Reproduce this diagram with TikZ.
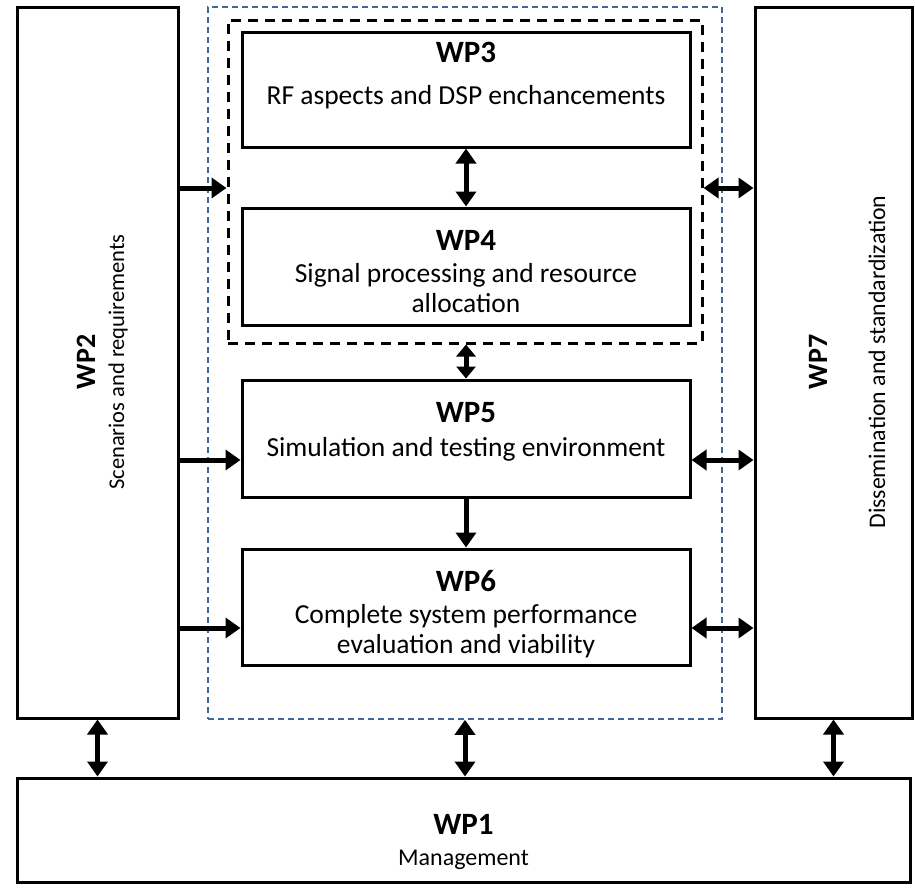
\documentclass[tikz,border=0pt]{standalone}
\usepackage{fontspec}
\setmainfont{Carlito}
\usetikzlibrary{arrows.meta}
\definecolor{dblue}{HTML}{41689A}
\begin{document}
\begin{tikzpicture}[x=1pt,y=-1pt,
  box/.style={draw, line width=3pt, rectangle, inner sep=0pt},
  tip/.tip={Triangle[length=15pt,width=20pt]},
  stip/.tip={Triangle[length=12pt,width=19pt]},
  arr/.style={line width=5pt, -tip},
  darr/.style={line width=5pt, tip-tip},
  ttl/.style={font=\fontsize{31}{36}\selectfont\bfseries, anchor=base},
  txt/.style={font=\fontsize{27.5}{32}\selectfont, anchor=base},
]
\useasboundingbox (0,0) rectangle (915,887);
\fill[white] (0,0) rectangle (915,887);

% outer boxes
\node[box, minimum width=161pt, minimum height=711pt] (wp2) at (97.5,362.5) {};
\node[box, minimum width=157pt, minimum height=711pt] (wp7) at (833.5,362.5) {};
\node[box, minimum width=893pt, minimum height=104pt] (wp1) at (463.5,830) {};
\node[draw=dblue, line width=1.6pt, dash pattern=on 6pt off 4pt, rectangle, inner sep=0pt,
      minimum width=514pt, minimum height=712pt] (blue) at (465,363) {};
\node[draw, line width=3pt, dash pattern=on 10pt off 7pt, rectangle, inner sep=0pt,
      minimum width=474pt, minimum height=323pt] (dbox) at (465,181.5) {};
\node[box, minimum width=448pt, minimum height=115pt] (wp3) at (466,89.5) {};
\node[box, minimum width=448pt, minimum height=117pt] (wp4) at (466,266.5) {};
\node[box, minimum width=448pt, minimum height=117pt] (wp5) at (466,438.5) {};
\node[box, minimum width=448pt, minimum height=116pt] (wp6) at (466,607) {};

% texts
\node[ttl] (t3) at (466,62) {WP3};
\node[txt] (b3) at (466,104) {RF aspects and DSP enchancements};
\node[ttl] (t4) at (466,250) {WP4};
\node[txt] (b4a) at (466,282) {Signal processing and resource};
\node[txt] (b4b) at (466,312) {allocation};
\node[ttl] (t5) at (466,422) {WP5};
\node[txt] (b5) at (466,456) {Simulation and testing environment};
\node[ttl] (t6) at (466,591) {WP6};
\node[txt] (b6a) at (466,623) {Complete system performance};
\node[txt] (b6b) at (466,653) {evaluation and viability};
\node[ttl] (t1) at (463.5,834) {WP1};
\node[txt, font=\fontsize{24}{28}\selectfont] (b1) at (463.5,865) {Management};
\node[ttl, rotate=90, font=\fontsize{28}{32}\selectfont\bfseries] (t2) at (95,362) {WP2};
\node[txt, rotate=90, font=\fontsize{22.5}{26}\selectfont] (b2) at (124,362) {Scenarios and requirements};
\node[ttl, rotate=90, font=\fontsize{28}{32}\selectfont\bfseries] (t7) at (827,362) {WP7};
\node[txt, rotate=90, font=\fontsize{23.8}{28}\selectfont] (b7) at (885,362) {Dissemination and standardization};

% helper rows
\coordinate (r1) at (0,188);
\coordinate (r2) at (0,460);
\coordinate (r3) at (0,628);

% arrows
\draw[arr] (wp2.east |- r1) -- (dbox.west |- r1);
\draw[darr] (dbox.east |- r1) -- (wp7.west |- r1);
\draw[arr] (wp2.east |- r2) -- (wp5.west |- r2);
\draw[arr] (wp2.east |- r3) -- (wp6.west |- r3);
\draw[darr] (wp5.east |- r2) -- (wp7.west |- r2);
\draw[darr] (wp6.east |- r3) -- (wp7.west |- r3);
\draw[darr] (wp3.south) -- (wp4.north);
\draw[line width=5pt, stip-stip] (wp5.north |- dbox.south) -- (wp5.north);
\draw[arr] (wp5.south) -- (wp6.north);
\draw[darr] (wp2.south) -- (wp2.south |- wp1.north);
\draw[darr] (blue.south) -- (blue.south |- wp1.north);
\draw[darr] (wp7.south) -- (wp7.south |- wp1.north);
\end{tikzpicture}
\end{document}
